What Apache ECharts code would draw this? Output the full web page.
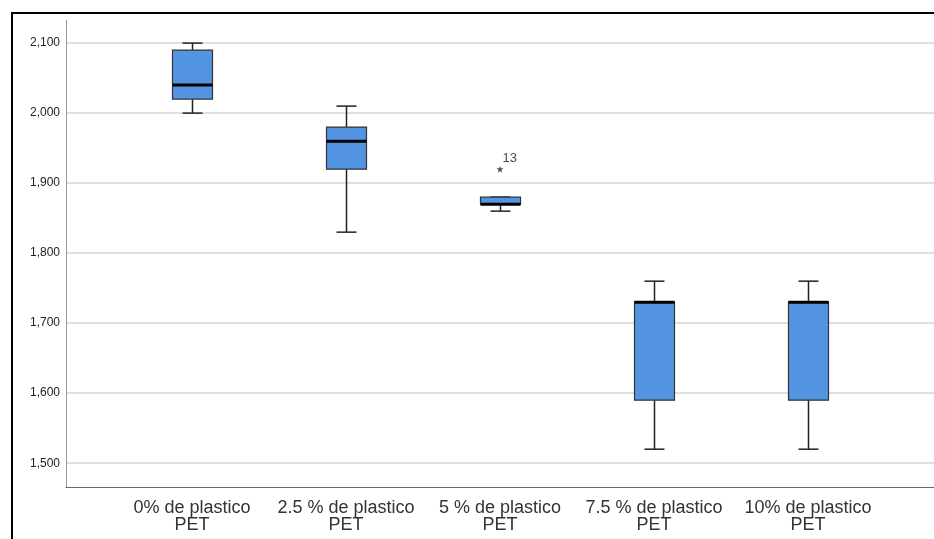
<!DOCTYPE html>
<html><head><meta charset="utf-8">
<script src="https://cdn.jsdelivr.net/npm/echarts@6/dist/echarts.min.js"></script>
<style>html,body{margin:0;padding:0;background:#fff}#c{width:934px;height:539px}</style>
</head><body><div id="c"></div>
<script>
const categories = ['0% de plastico\nPET', '2.5 % de plastico\nPET', '5 % de plastico\nPET', '7.5 % de plastico\nPET', '10% de plastico\nPET'];
const mins    = [2000, 1830, 1860, 1520, 1520];
const q1s     = [2020, 1920, 1870, 1590, 1590];
const medians = [2040, 1960, 1870, 1730, 1730];
const q3s     = [2090, 1980, 1880, 1730, 1730];
const maxs    = [2100, 2010, 1880, 1760, 1760];
const outlierCategory = [2];
const outlierValue = [1920];
const outlierLabel = ['13'];
const yTicks = [1500, 1600, 1700, 1800, 1900, 2000, 2100];
const yMin = 1466, yMax = 2133;

const boxData = categories.map((c, i) => [i, mins[i], q1s[i], medians[i], q3s[i], maxs[i]]);
const outData = outlierCategory.map((c, i) => [c, outlierValue[i], outlierLabel[i]]);

const chart = echarts.init(document.getElementById('c'), null, {renderer: 'canvas'});
const FONT = 'Liberation Sans, Arial, sans-serif';

chart.setOption({
  animation: false,
  backgroundColor: '#fff',
  grid: [
    {left: 66, right: 0, top: 20, bottom: 52},
    {left: 115, right: 49, top: 20, bottom: 52}
  ],
  xAxis: [
    {gridIndex: 0, type: 'value', min: 0, max: 1,
     axisLine: {show: true, onZero: false, lineStyle: {color: '#666', width: 1}},
     axisTick: {show: false}, axisLabel: {show: false}, splitLine: {show: false}},
    {gridIndex: 1, type: 'category', data: categories,
     axisLine: {show: false}, axisTick: {show: false}, splitLine: {show: false},
     axisLabel: {interval: 0, fontSize: 18, lineHeight: 17, color: '#333', margin: 13, fontFamily: FONT}}
  ],
  yAxis: [
    {gridIndex: 0, type: 'value', min: yMin, max: yMax,
     axisLine: {show: true, lineStyle: {color: '#999', width: 1}},
     axisTick: {show: false, customValues: yTicks},
     axisLabel: {customValues: yTicks, formatter: v => Number(v).toLocaleString('en-US'),
                 fontSize: 12, color: '#222', margin: 6, fontFamily: FONT},
     splitLine: {show: true, lineStyle: {color: '#d6d6d6', width: 1.5}}},
    {gridIndex: 1, type: 'value', min: yMin, max: yMax, show: false}
  ],
  graphic: [
    {type: 'line', shape: {x1: 11, y1: 13, x2: 934, y2: 13}, style: {stroke: '#000', lineWidth: 2}, z: 100},
    {type: 'line', shape: {x1: 12, y1: 12, x2: 12, y2: 539}, style: {stroke: '#000', lineWidth: 2}, z: 100}
  ],
  series: [
    {
      type: 'custom', xAxisIndex: 1, yAxisIndex: 1, data: boxData,
      encode: {x: 0, y: [1, 2, 3, 4, 5]},
      renderItem: function (params, api) {
        const i = api.value(0);
        const x = Math.round(api.coord([i, api.value(1)])[0]) + 0.5;
        const y = v => api.coord([i, v])[1];
        const yMn = y(api.value(1)), yQ1 = y(api.value(2)), yMd = y(api.value(3)),
              yQ3 = y(api.value(4)), yMx = y(api.value(5));
        const hw = 20, cw = 10;
        const ls = {stroke: '#222', lineWidth: 1.5};
        return {
          type: 'group',
          children: [
            {type: 'line', shape: {x1: x, y1: yQ1, x2: x, y2: yMn}, style: ls},
            {type: 'line', shape: {x1: x - cw, y1: yMn, x2: x + cw, y2: yMn}, style: ls},
            {type: 'line', shape: {x1: x, y1: yQ3, x2: x, y2: yMx}, style: ls},
            {type: 'line', shape: {x1: x - cw, y1: yMx, x2: x + cw, y2: yMx}, style: ls},
            {type: 'rect', shape: {x: x - hw, y: yQ3, width: 2 * hw, height: yQ1 - yQ3},
             style: {fill: '#5394e3', stroke: '#333', lineWidth: 1.2}},
            {type: 'line', shape: {x1: x - hw, y1: yMd, x2: x + hw, y2: yMd},
             style: {stroke: '#000', lineWidth: 3}}
          ]
        };
      }
    },
    {
      type: 'scatter', xAxisIndex: 1, yAxisIndex: 1, data: outData,
      symbol: 'path://M0,-1 L0.22,-0.3 L0.95,-0.31 L0.36,0.12 L0.59,0.81 L0,0.38 L-0.59,0.81 L-0.36,0.12 L-0.95,-0.31 L-0.22,-0.3Z',
      symbolSize: 7,
      itemStyle: {color: '#222'},
      label: {show: true, formatter: p => p.value[2], position: [6, -14],
              fontSize: 13, color: '#222', fontFamily: FONT}
    }
  ]
});
</script>
</body></html>
